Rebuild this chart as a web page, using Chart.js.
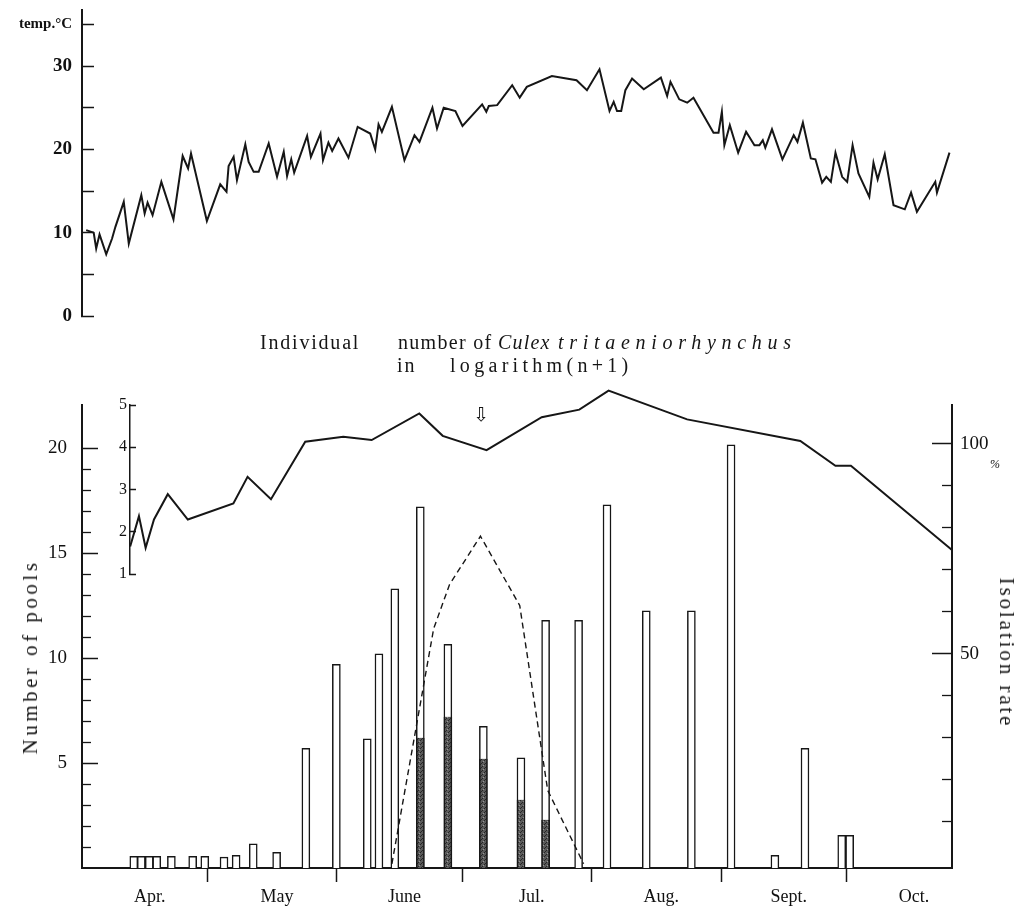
<!DOCTYPE html>
<html>
<head>
<meta charset="utf-8">
<script src="https://cdn.jsdelivr.net/npm/chart.js@4.4.1/dist/chart.umd.min.js"></script>
<style>
  body { margin: 0; background: #fff; }
  #wrap { position: relative; width: 1026px; height: 907px; overflow: hidden;
          font-family: 'Liberation Serif', 'Times New Roman', serif; color: #151515; }
  #wrap canvas { position: absolute; left: 0; top: 0; }
  .lbl { position: absolute; font-size: 20px; line-height: 24px; white-space: nowrap; }
  .axt { position: absolute; font-size: 21px; line-height: 24px; white-space: nowrap; }
</style>
</head>
<body>
<div id="wrap">
  <canvas id="tempChart" width="1026" height="907"></canvas>
  <canvas id="poolChart" width="1026" height="907"></canvas>
  <canvas id="rateChart" width="1026" height="907"></canvas>
  <canvas id="logChart" width="1026" height="907"></canvas>

  <div class="lbl" style="left:260px; top:330px; letter-spacing:1.8px">Individual</div>
  <div class="lbl" style="left:398px; top:330px; letter-spacing:1.3px">number of</div>
  <div class="lbl" style="left:498px; top:330px; letter-spacing:1.2px"><i>Culex</i></div>
  <div class="lbl" style="left:558px; top:330px; letter-spacing:5.7px"><i>tritaeniorhynchus</i></div>
  <div class="lbl" style="left:397px; top:353px; letter-spacing:2px">in</div>
  <div class="lbl" style="left:450px; top:353px; letter-spacing:4.3px">logarithm(n+1)</div>
  <div class="lbl" style="left:473px; top:402px; font-family:'DejaVu Sans'; font-size:19px">⇩</div>

  <div class="axt" style="left:30px; top:657px; letter-spacing:3.5px; transform:translate(-50%,-50%) rotate(-90deg)">Number of pools</div>
  <div class="axt" style="left:1007px; top:653px; letter-spacing:2.9px; transform:translate(-50%,-50%) rotate(90deg)">Isolation rate</div>
</div>

<script>
// days counted from 1 April
const monthNames = ['Apr.', 'May', 'June', 'Jul.', 'Aug.', 'Sept.', 'Oct.'];
const monthStarts = [0, 30, 61, 91, 122, 153, 183, 213];

// daily air temperature (°C)
const tempDays = [1.0, 2.8, 3.4, 4.2, 5.8, 7.2, 8.0, 10.0, 11.2, 14.2, 15.0, 15.7, 16.9, 19.0, 21.9, 24.1, 25.4, 26.1, 29.9, 33.1,
  34.6, 35.1, 36.3, 37.1, 39.1, 39.9, 41.1, 42.3, 44.7, 46.7, 48.3, 49.1, 50.1, 50.8, 53.9, 54.8, 57.1, 57.7, 59.0, 59.9,
  61.4, 63.8, 66.0, 69.0, 70.2, 71.0, 71.8, 74.2, 77.2, 79.6, 80.8, 83.9, 85.0, 86.6, 89.4, 91.1, 95.8, 96.8, 97.4, 99.4,
  103.0, 104.8, 106.5, 112.5, 118.4, 120.9, 123.9, 126.3, 127.3, 128.1, 129.1, 130.1, 131.7, 134.5, 138.6, 140.1, 140.9, 143.0, 144.9, 146.4,
  151.2, 152.4, 153.2, 153.8, 155.1, 157.1, 159.0, 161.0, 162.2, 163.0, 163.6, 165.2, 167.7, 170.4, 171.3, 172.6, 174.5, 175.6, 177.2, 178.2,
  179.3, 180.4, 182.0, 183.2, 184.5, 185.9, 188.5, 189.5, 190.5, 192.2, 194.3, 197.0, 198.5, 199.9, 204.3, 204.7, 207.7];
const tempValues = [10.3, 10.0, 8.1, 9.8, 7.4, 9.3, 10.7, 13.7, 8.7, 14.5, 12.3, 13.6, 12.1, 16.1, 11.6, 19.2, 17.7, 19.5, 11.4, 15.8,
  14.9, 18.0, 19.1, 16.3, 20.6, 18.5, 17.3, 17.3, 20.7, 16.7, 19.7, 16.8, 18.8, 17.2, 21.6, 19.1, 21.9, 18.7, 20.8, 19.8,
  21.3, 19.0, 22.7, 21.9, 20.0, 23.0, 22.1, 25.1, 18.7, 21.7, 20.9, 25.0, 22.5, 25.0, 24.6, 22.8, 25.4, 24.5, 25.2, 25.3,
  27.7, 26.2, 27.5, 28.8, 28.3, 27.1, 29.6, 24.6, 25.7, 24.6, 24.6, 27.1, 28.5, 27.2, 28.6, 26.4, 28.1, 26.0, 25.6, 26.2,
  22.0, 22.0, 24.5, 20.5, 22.9, 19.6, 22.1, 20.5, 20.5, 21.1, 20.2, 22.4, 18.8, 21.7, 20.9, 23.2, 18.9, 18.8, 16.0, 16.7,
  16.1, 19.6, 16.7, 16.1, 20.5, 17.1, 14.3, 18.4, 16.4, 19.4, 13.3, 12.8, 14.8, 12.5, 16.1, 14.8, 19.6];

// number of pools tested, and pools found positive
const poolDays = [12.4, 14.2, 16.1, 17.9, 21.4, 26.5, 29.4, 34.0, 36.9, 41.0, 46.6, 53.6, 60.9, 68.3, 71.1, 74.9, 81.0, 87.6,
  96.1, 105.1, 111.0, 118.9, 125.7, 135.1, 145.9, 155.4, 165.9, 173.1, 181.9, 183.8];
const poolTotals = [0.55, 0.55, 0.55, 0.55, 0.55, 0.55, 0.55, 0.52, 0.6, 1.15, 0.75, 5.7, 9.7, 6.15, 10.2, 13.3, 17.2, 10.65,
  6.75, 5.25, 11.8, 11.8, 17.3, 12.25, 12.25, 20.15, 0.6, 5.7, 1.55, 1.55];
const positiveDays = [81.0, 87.6, 96.1, 105.1, 111.0];
const positivePools = [6.2, 7.2, 5.2, 3.25, 2.3];

// isolation rate (%)
const rateDays = [74.2, 84.2, 88.0, 95.4, 104.8, 111.5, 120.1];
const rateValues = [0, 56, 66.5, 78, 61.5, 17.5, 0];

// individual number in log(n+1)
const logDays = [11.6, 13.7, 15.3, 17.3, 20.6, 25.4, 36.3, 39.7, 45.3, 53.5, 62.6, 69.4, 80.8, 86.4, 96.9, 110.1, 119.1,
  126.1, 144.9, 172.0, 180.4, 184.1, 208.3];
const logValues = [1.65, 2.37, 1.62, 2.29, 2.89, 2.29, 2.67, 3.3, 2.77, 4.13, 4.25, 4.17, 4.8, 4.27, 3.93, 4.71, 4.89,
  5.34, 4.66, 4.15, 3.56, 3.56, 1.57];

const xMax = 208.3;
const logAxisDay = 11.56;
const rateMin = -1;
const rateMax = -1 + 463 / 4.2;
const ink = '#161616';
const serif = "'Liberation Serif', 'Times New Roman', serif";

function pts(xs, ys) {
  return xs.map((x, i) => ({ x: x, y: ys[i] }));
}

function fixedTicks(values) {
  return (scale) => { scale.ticks = values.map(v => ({ value: v })); };
}

// keep the axis from pushing the plot area around
function fixWidth(w) {
  return (s) => { s.width = w; s.paddingTop = 0; s.paddingBottom = 0; };
}

function stipple() {
  const c = document.createElement('canvas');
  c.width = 4; c.height = 4;
  const g = c.getContext('2d');
  g.fillStyle = '#5a5a5a'; g.fillRect(0, 0, 4, 4);
  g.fillStyle = '#262626';
  g.fillRect(0, 0, 1, 1); g.fillRect(2, 2, 1, 1); g.fillRect(1, 3, 1, 1);
  g.fillStyle = '#999'; g.fillRect(3, 1, 1, 1);
  return g.createPattern(c, 'repeat');
}

const quiet = {
  responsive: false,
  animation: false,
  events: [],
  plugins: { legend: { display: false }, tooltip: { enabled: false } }
};

// temperature panel
new Chart(document.getElementById('tempChart'), {
  type: 'line',
  data: {
    datasets: [{
      data: pts(tempDays, tempValues),
      borderColor: ink, borderWidth: 2, pointRadius: 0, tension: 0
    }]
  },
  options: {
    ...quiet,
    layout: { padding: { left: 0, right: 74, top: 10, bottom: 591 } },
    scales: {
      x: { type: 'linear', min: 0, max: xMax, display: false },
      y: {
        min: 0, max: 36.72,
        afterFit: fixWidth(82),
        afterBuildTicks: fixedTicks([0, 5, 10, 15, 20, 25, 30, 35]),
        grid: { drawOnChartArea: false, tickLength: -12, tickWidth: 1.5, tickColor: ink },
        border: { color: ink, width: 2 },
        ticks: {
          padding: 22, autoSkip: false, color: '#111',
          font: (c) => (c.tick && c.tick.value === 35)
            ? { family: serif, size: 15, weight: 'bold' }
            : { family: serif, size: 19, weight: 'bold' },
          callback: (v) => v === 35 ? 'temp.°C' : (v % 10 === 0 ? String(v) : '')
        }
      }
    }
  }
});

// pools panel
new Chart(document.getElementById('poolChart'), {
  type: 'bar',
  data: {
    datasets: [
      {
        data: pts(positiveDays, positivePools), yAxisID: 'y', xAxisID: 'x',
        backgroundColor: stipple(), borderColor: ink,
        borderWidth: { left: 1.5, right: 1.5, top: 0, bottom: 0 },
        barThickness: 8, grouped: false, order: 1
      },
      {
        data: pts(poolDays, poolTotals), yAxisID: 'y', xAxisID: 'x',
        backgroundColor: '#fff', borderColor: ink,
        borderWidth: { left: 1.5, right: 1.5, top: 1.5, bottom: 0 },
        barThickness: 8, grouped: false, order: 2
      }
    ]
  },
  options: {
    ...quiet,
    layout: { padding: { left: 0, right: 74, top: 405, bottom: 0 } },
    scales: {
      x: {
        type: 'linear', min: 0, max: xMax, offset: false, position: 'bottom',
        afterFit: (s) => { s.height = 14; },
        afterBuildTicks: fixedTicks(monthStarts.slice(1, 7)),
        grid: { offset: false, drawOnChartArea: false, tickLength: 14, tickWidth: 1.5, tickColor: ink },
        border: { color: ink, width: 2 },
        ticks: { display: false }
      },
      xl: {
        type: 'linear', axis: 'x', min: 0, max: xMax, offset: false, position: 'bottom', weight: 1,
        afterFit: (s) => { s.height = 25; },
        afterBuildTicks: fixedTicks(monthNames.map((m, i) => (monthStarts[i] + monthStarts[i + 1]) / 2)),
        grid: { display: false, drawTicks: false, offset: false },
        border: { display: false },
        ticks: {
          padding: 4, autoSkip: false, maxRotation: 0, labelOffset: 5, color: '#111',
          font: { family: serif, size: 18 },
          callback: (v, i) => monthNames[i]
        }
      },
      y: {
        position: 'left', min: 0, max: 22.05,
        afterFit: fixWidth(82),
        afterBuildTicks: fixedTicks([5, 10, 15, 20]),
        grid: { drawOnChartArea: false, tickLength: -16, tickWidth: 1.5, tickColor: ink },
        border: { color: ink, width: 2 },
        ticks: { padding: 31, autoSkip: false, color: '#111', font: { family: serif, size: 19 } }
      },
      yMinor: {
        axis: 'y', position: { x: 0 }, min: 0, max: 22.05,
        afterBuildTicks: fixedTicks([1, 2, 3, 4, 6, 7, 8, 9, 11, 12, 13, 14, 16, 17, 18, 19]),
        grid: { drawOnChartArea: false, tickLength: -9, tickWidth: 1.3, tickColor: ink },
        border: { display: false },
        ticks: { display: false }
      }
    }
  }
});

// isolation rate panel (same plot box, right-hand axis)
new Chart(document.getElementById('rateChart'), {
  type: 'line',
  data: {
    datasets: [{
      data: pts(rateDays, rateValues), yAxisID: 'yRate', xAxisID: 'x',
      borderColor: ink, borderWidth: 1.4, borderDash: [6, 4], pointRadius: 0, tension: 0
    }]
  },
  options: {
    ...quiet,
    layout: { padding: { left: 82, right: 0, top: 405, bottom: 39 } },
    scales: {
      x: { type: 'linear', min: 0, max: xMax, display: false },
      yRate: {
        axis: 'y', position: 'right', min: rateMin, max: rateMax,
        afterFit: fixWidth(74),
        afterBuildTicks: fixedTicks([50, 95, 100]),
        grid: {
          drawOnChartArea: false, tickLength: -20, tickWidth: 1.5,
          tickColor: (c) => (c.tick && c.tick.value === 95) ? 'rgba(0,0,0,0)' : ink
        },
        border: { color: ink, width: 2 },
        ticks: {
          padding: 28, autoSkip: false, color: '#111',
          font: (c) => (c.tick && c.tick.value === 95) ? { family: serif, size: 12, style: 'italic' } : { family: serif, size: 19 },
          callback: (v) => v === 95 ? '\u2003\u2003\u2002%' : String(v)
        }
      },
      yRateMinor: {
        axis: 'y', position: { x: xMax }, min: rateMin, max: rateMax,
        afterBuildTicks: fixedTicks([10, 20, 30, 40, 60, 70, 80, 90]),
        grid: { drawOnChartArea: false, tickLength: 10, tickWidth: 1.3, tickColor: ink },
        border: { display: false },
        ticks: { display: false }
      }
    }
  }
});

// log(n+1) panel with its own short axis
new Chart(document.getElementById('logChart'), {
  type: 'line',
  data: {
    datasets: [{
      data: pts(logDays, logValues),
      borderColor: ink, borderWidth: 2, pointRadius: 0, tension: 0, clip: false
    }]
  },
  options: {
    ...quiet,
    layout: { padding: { left: 0, right: 74, top: 405, bottom: 333 } },
    scales: {
      x: { type: 'linear', min: logAxisDay, max: xMax, display: false },
      y: {
        min: 1, max: 5,
        afterFit: fixWidth(130),
        afterBuildTicks: fixedTicks([1, 2, 3, 4, 5]),
        grid: { drawOnChartArea: false, tickLength: -6, tickWidth: 1.5, tickColor: ink },
        border: { color: ink, width: 1.5 },
        ticks: { padding: 9, autoSkip: false, color: '#111', font: { family: serif, size: 16 } }
      }
    }
  }
});
</script>
</body>
</html>
